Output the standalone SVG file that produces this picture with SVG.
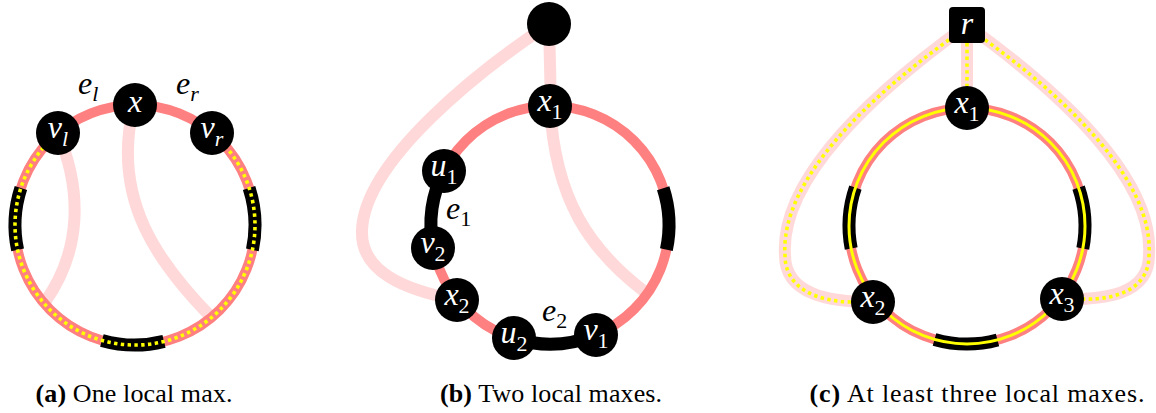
<svg xmlns="http://www.w3.org/2000/svg" width="1156" height="413" viewBox="0 0 1156 413">
<style>
.ring{fill:none;stroke:#ff8080;stroke-width:10}
.blk{fill:none;stroke:#000;stroke-width:13}
.chord{fill:none;stroke:#ffd9d9;stroke-width:12}
.ydot{fill:none;stroke:#ffff00;stroke-width:3.6;stroke-dasharray:3.4 3.4}
.yline{fill:none;stroke:#ffff00;stroke-width:3}
.nd{fill:#000}
.lab{font-style:italic;font-size:32px;fill:#fff;text-anchor:middle}
.elab{font-style:italic;font-size:32px;fill:#000}
.sub{font-size:22px}
.num{font-style:normal}
.cap{font-size:26px;fill:#000;text-anchor:middle}
</style>
<g id="connectors">
  <g id="conn-a">
    <path class="chord" d="M58,133 C82,190 82,250 45,302"/>
    <path class="chord" d="M134,105 C110,200 160,265 212,318"/>
    <circle class="ring" cx="135" cy="225" r="120"/>
    <path class="blk" d="M17.6,249.9 A120,120 0 0 1 20.9,187.9"/>
    <path class="blk" d="M249.1,187.9 A120,120 0 0 1 252.4,249.9"/>
    <path class="blk" d="M164,341.4 A120,120 0 0 1 101.9,340.4"/>
    <path class="ydot" d="M57.9,133.1 A120,120 0 1 0 212.1,133.1"/>
  </g>
  <g id="conn-b">
    <path class="chord" d="M549,24 L551,106"/>
    <path class="chord" d="M549,24 C480,70 365,160 362,230 C360,272 405,290 457,300"/>
    <path class="chord" d="M550,106 C555,200 590,250 645,292"/>
    <circle class="ring" cx="550" cy="225" r="119"/>
    <path class="blk" d="M433.2,247.7 A119,119 0 0 1 443.9,171"/>
    <path class="blk" d="M595.5,334.9 A119,119 0 0 1 514.2,338.5"/>
    <path class="blk" d="M663.2,188.2 A119,119 0 0 1 666.4,249.7"/>
  </g>
  <g id="conn-c">
    <path class="chord" d="M967,25 L967,108"/>
    <path class="chord" d="M967,25 C870,95 780,180 785,255 C785,295 830,302 873,302"/>
    <path class="chord" d="M967,25 C1064,95 1154,180 1149,255 C1149,295 1104,300 1062,299"/>
    <path class="ydot" d="M967,43 L967,86"/>
    <path class="ydot" d="M960,32 C870,95 780,180 785,255 C785,295 830,302 852,302"/>
    <path class="ydot" d="M974,32 C1064,95 1154,180 1149,255 C1149,295 1104,300 1083,299"/>
    <circle class="ring" cx="967" cy="226" r="118"/>
    <path class="blk" d="M851.2,248.5 A118,118 0 0 1 855.4,187.6"/>
    <path class="blk" d="M1078.6,187.6 A118,118 0 0 1 1082.8,248.5"/>
    <path class="blk" d="M997.5,340 A118,118 0 0 1 934.5,339.4"/>
    <circle class="yline" cx="967" cy="226" r="118"/>
  </g>
</g>
<g font-family="'Liberation Serif', 'DejaVu Serif', serif">
<g id="label-el"><text class="elab" x="78" y="94">e<tspan class="sub" dy="7">l</tspan></text></g>
<g id="label-er"><text class="elab" x="176" y="94">e<tspan class="sub" dy="7">r</tspan></text></g>
<g id="label-e1"><text class="elab" x="446" y="219">e<tspan class="sub num" dy="7">1</tspan></text></g>
<g id="label-e2"><text class="elab" x="542" y="321">e<tspan class="sub num" dy="7">2</tspan></text></g>

<g id="node-vl"><circle class="nd" cx="58" cy="133" r="22"/><text class="lab" x="58" y="138">v<tspan class="sub" dy="8">l</tspan></text></g>
<g id="node-x"><circle class="nd" cx="135" cy="105" r="22"/><text class="lab" x="135" y="112">x</text></g>
<g id="node-vr"><circle class="nd" cx="212" cy="133" r="22"/><text class="lab" x="212" y="138">v<tspan class="sub" dy="8">r</tspan></text></g>

<g id="node-b-top"><circle class="nd" cx="549" cy="24" r="22"/></g>
<g id="node-b-x1"><circle class="nd" cx="550" cy="106" r="22"/><text class="lab" x="550" y="111">x<tspan class="sub num" dy="8">1</tspan></text></g>
<g id="node-b-u1"><circle class="nd" cx="444" cy="171" r="22"/><text class="lab" x="444" y="176">u<tspan class="sub num" dy="8">1</tspan></text></g>
<g id="node-b-v2"><circle class="nd" cx="433" cy="248" r="22"/><text class="lab" x="433" y="253">v<tspan class="sub num" dy="8">2</tspan></text></g>
<g id="node-b-x2"><circle class="nd" cx="457" cy="300" r="22"/><text class="lab" x="457" y="305">x<tspan class="sub num" dy="8">2</tspan></text></g>
<g id="node-b-u2"><circle class="nd" cx="514" cy="338" r="22"/><text class="lab" x="514" y="343">u<tspan class="sub num" dy="8">2</tspan></text></g>
<g id="node-b-v1"><circle class="nd" cx="596" cy="335" r="22"/><text class="lab" x="596" y="340">v<tspan class="sub num" dy="8">1</tspan></text></g>

<g id="node-c-r"><rect class="nd" x="949" y="7" width="36" height="36" rx="4"/><text class="lab" x="967" y="34">r</text></g>
<g id="node-c-x1"><circle class="nd" cx="967" cy="108" r="22"/><text class="lab" x="967" y="113">x<tspan class="sub num" dy="8">1</tspan></text></g>
<g id="node-c-x2"><circle class="nd" cx="873" cy="302" r="22"/><text class="lab" x="873" y="307">x<tspan class="sub num" dy="8">2</tspan></text></g>
<g id="node-c-x3"><circle class="nd" cx="1062" cy="299" r="22"/><text class="lab" x="1062" y="304">x<tspan class="sub num" dy="8">3</tspan></text></g>

<g id="captions">
<text class="cap" x="134" y="402" textLength="197" lengthAdjust="spacing"><tspan font-weight="bold">(a)</tspan> One local max.</text>
<text class="cap" x="551" y="402" textLength="222" lengthAdjust="spacing"><tspan font-weight="bold">(b)</tspan> Two local maxes.</text>
<text class="cap" x="977" y="402" textLength="335" lengthAdjust="spacing"><tspan font-weight="bold">(c)</tspan> At least three local maxes.</text>
</g>
</g>
</svg>
